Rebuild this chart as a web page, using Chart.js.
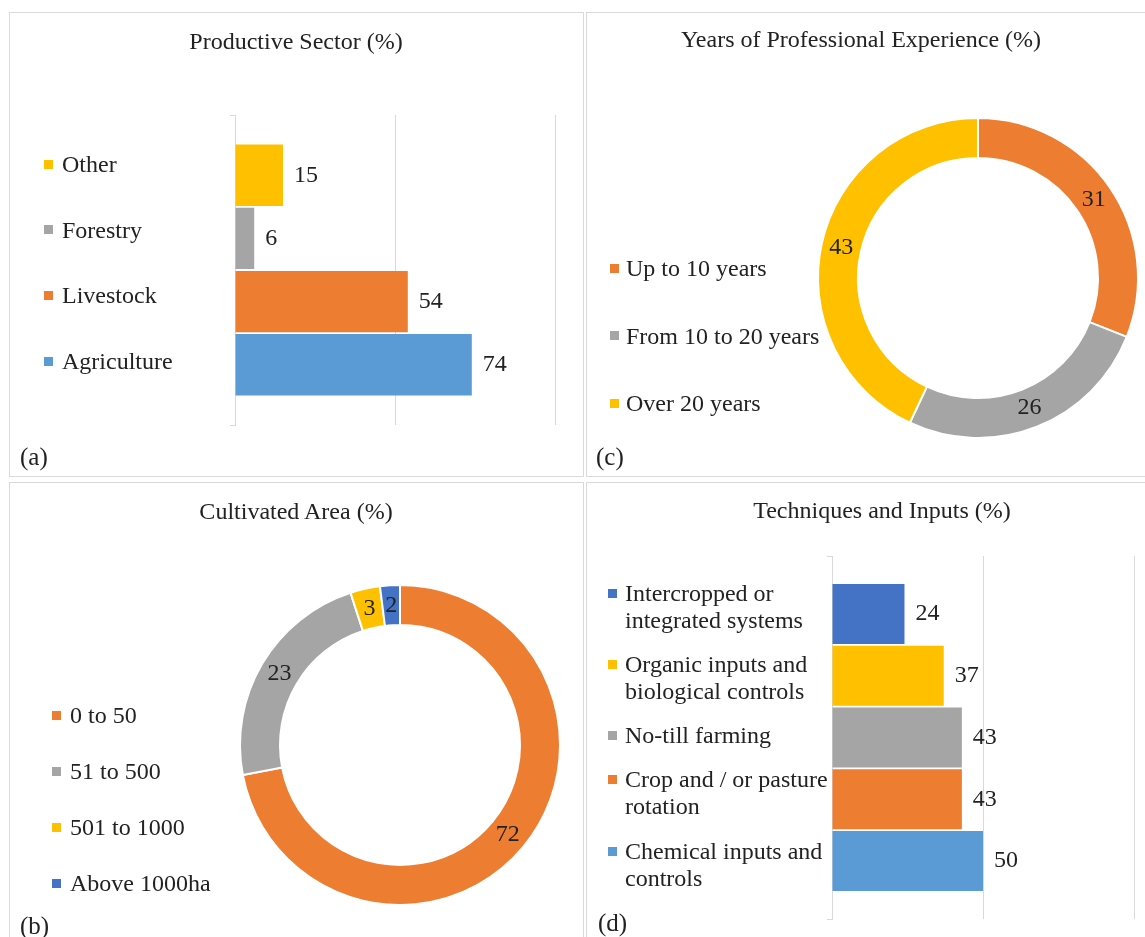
<!DOCTYPE html>
<html>
<head>
<meta charset="utf-8">
<script src="https://cdn.jsdelivr.net/npm/chart.js@4.4.1/dist/chart.umd.min.js"></script>
<style>
html,body{margin:0;padding:0;background:#fff;}
body{width:1145px;height:937px;overflow:hidden;position:relative;font-family:"Liberation Serif","Times New Roman",serif;color:#222;}
.panel{position:absolute;box-sizing:border-box;border:1px solid #d9d9d9;}
canvas{position:absolute;}
.title{position:absolute;font-size:24px;line-height:24px;white-space:nowrap;transform:translateX(-50%);}
.legend{position:absolute;display:flex;flex-direction:column;}
.item{display:flex;align-items:flex-start;font-size:24px;white-space:nowrap;}
.box{width:9px;height:9px;flex:none;}
.tag{position:absolute;font-size:25px;line-height:26px;white-space:nowrap;}
</style>
</head>
<body>
<div class="panel" style="left:9px;top:12px;width:575px;height:465px;"></div>
<div class="panel" style="left:586px;top:12px;width:620px;height:465px;"></div>
<div class="panel" style="left:9px;top:482px;width:575px;height:500px;"></div>
<div class="panel" style="left:586px;top:482px;width:620px;height:500px;"></div>

<canvas id="cA" width="572" height="462" style="left:10px;top:13px;"></canvas>
<canvas id="cC" width="558" height="462" style="left:587px;top:13px;"></canvas>
<canvas id="cB" width="572" height="454" style="left:10px;top:483px;"></canvas>
<canvas id="cD" width="558" height="454" style="left:587px;top:483px;"></canvas>

<script>
// ---------- data ----------
const sectorTitle = 'Productive Sector (%)';
const sectorLabels = ['Other', 'Forestry', 'Livestock', 'Agriculture'];
const sectorValues = [15, 6, 54, 74];
const sectorColors = ['#FFC000', '#A5A5A5', '#ED7D31', '#5B9BD5'];

const experienceTitle = 'Years of Professional Experience (%)';
const experienceLabels = ['Up to 10 years', 'From 10 to 20 years', 'Over 20 years'];
const experienceValues = [31, 26, 43];
const experienceColors = ['#ED7D31', '#A5A5A5', '#FFC000'];

const areaTitle = 'Cultivated Area (%)';
const areaLabels = ['0 to 50', '51 to 500', '501 to 1000', 'Above 1000ha'];
const areaValues = [72, 23, 3, 2];
const areaColors = ['#ED7D31', '#A5A5A5', '#FFC000', '#4472C4'];

const techniqueTitle = 'Techniques and Inputs (%)';
const techniqueLabels = [
  ['Intercropped or', 'integrated systems'],
  ['Organic inputs and', 'biological controls'],
  ['No-till farming'],
  ['Crop and / or pasture', 'rotation'],
  ['Chemical inputs and', 'controls']
];
const techniqueValues = [24, 37, 43, 43, 50];
const techniqueColors = ['#4472C4', '#FFC000', '#A5A5A5', '#ED7D31', '#5B9BD5'];

const percentAxisMin = 0;
const percentAxisMax = 100;
const percentAxisStep = 50;

const panelTags = ['(a)', '(c)', '(b)', '(d)'];

// ---------- helpers ----------
const FONT = '"Liberation Serif", "Times New Roman", serif';
const TEXT = '#222';
Chart.defaults.font.family = FONT;
Chart.defaults.font.size = 24;
Chart.defaults.color = TEXT;

function addText(cls, text, left, top) {
  const d = document.createElement('div');
  d.className = cls;
  d.textContent = text;
  d.style.left = left + 'px';
  d.style.top = top + 'px';
  document.body.appendChild(d);
  return d;
}

function buildLegend(labels, colors, o) {
  const el = document.createElement('div');
  el.className = 'legend';
  el.style.left = o.boxX + 'px';
  el.style.top = (o.firstCenter - o.lh / 2) + 'px';
  el.style.rowGap = o.gap + 'px';
  labels.forEach((lab, i) => {
    const lines = Array.isArray(lab) ? lab : [lab];
    const item = document.createElement('div');
    item.className = 'item';
    const box = document.createElement('span');
    box.className = 'box';
    box.style.background = colors[i];
    box.style.marginTop = ((o.lh - 9) / 2) + 'px';
    box.style.marginRight = (o.textX - o.boxX - 9) + 'px';
    const txt = document.createElement('div');
    txt.style.lineHeight = o.lh + 'px';
    lines.forEach(line => {
      const ln = document.createElement('div');
      ln.textContent = line;
      txt.appendChild(ln);
    });
    item.appendChild(box);
    item.appendChild(txt);
    el.appendChild(item);
  });
  document.body.appendChild(el);
}

const valueLabels = {
  id: 'valueLabels',
  afterDatasetsDraw(chart, args, opts) {
    const ctx = chart.ctx;
    ctx.save();
    ctx.font = '24px ' + FONT;
    ctx.fillStyle = TEXT;
    chart.data.datasets.forEach((ds, i) => {
      const meta = chart.getDatasetMeta(i);
      meta.data.forEach((el, j) => {
        const v = ds.data[j];
        if (meta.type === 'bar') {
          ctx.textAlign = 'left';
          ctx.textBaseline = 'middle';
          ctx.fillText(String(v), el.x + (opts.gap || 11), el.y);
        } else {
          const p = el.getCenterPoint();
          ctx.textAlign = 'center';
          ctx.textBaseline = 'middle';
          ctx.fillText(String(v), p.x, p.y);
        }
      });
    });
    ctx.restore();
  }
};

function barChart(id, title, labels, values, colors, padding, catPct, barPct) {
  return new Chart(document.getElementById(id), {
    type: 'bar',
    data: {
      labels: [title],
      datasets: labels.map((l, i) => ({
        label: Array.isArray(l) ? l.join(' ') : l,
        data: [values[i]],
        backgroundColor: colors[i],
        borderWidth: 0,
        categoryPercentage: catPct,
        barPercentage: barPct
      }))
    },
    options: {
      indexAxis: 'y',
      responsive: false,
      animation: false,
      devicePixelRatio: 1,
      layout: { padding: padding },
      plugins: {
        legend: { display: false },
        title: { display: false },
        tooltip: { enabled: false },
        valueLabels: { gap: 11 }
      },
      scales: {
        x: {
          type: 'linear',
          min: percentAxisMin, max: percentAxisMax,
          ticks: { display: false, stepSize: percentAxisStep },
          grid: { color: '#d9d9d9', drawTicks: false, lineWidth: 1 },
          border: { display: false },
          afterFit: s => { s.height = 0; }
        },
        y: {
          ticks: { display: false },
          grid: { drawOnChartArea: false, drawTicks: true, tickLength: 5, color: '#d9d9d9', offset: true },
          border: { display: true, color: '#d9d9d9' },
          afterFit: s => { s.width = 5; }
        }
      }
    },
    plugins: [valueLabels]
  });
}

function ringChart(id, labels, values, colors, padding) {
  return new Chart(document.getElementById(id), {
    type: 'doughnut',
    data: {
      labels: labels,
      datasets: [{
        data: values,
        backgroundColor: colors,
        borderColor: '#ffffff',
        borderWidth: 2,
        radius: 160,
        cutout: '75%'
      }]
    },
    options: {
      responsive: false,
      animation: false,
      devicePixelRatio: 1,
      layout: { padding: padding },
      plugins: {
        legend: { display: false },
        title: { display: false },
        tooltip: { enabled: false },
        valueLabels: {}
      }
    },
    plugins: [valueLabels]
  });
}

// ---------- titles ----------
addText('title', sectorTitle, 296, 41 - 12).style.left = '296px';
addText('title', experienceTitle, 861, 39 - 12);
addText('title', areaTitle, 296, 511 - 12);
addText('title', techniqueTitle, 882, 510 - 12);

// ---------- legends ----------
buildLegend(sectorLabels, sectorColors, { boxX: 44, textX: 62, firstCenter: 164, lh: 24, gap: 41.7 });
buildLegend(experienceLabels, experienceColors, { boxX: 610, textX: 626, firstCenter: 268, lh: 24, gap: 43.5 });
buildLegend(areaLabels, areaColors, { boxX: 52, textX: 70, firstCenter: 715, lh: 24, gap: 32 });
buildLegend(techniqueLabels, techniqueColors, { boxX: 608, textX: 625, firstCenter: 593, lh: 27, gap: 17.25 });

// ---------- panel tags ----------
addText('tag', panelTags[0], 20, 457 - 13);
addText('tag', panelTags[1], 596, 457 - 13);
addText('tag', panelTags[2], 20, 926 - 13);
addText('tag', panelTags[3], 598, 923 - 13);

// ---------- charts ----------
barChart('cA', sectorTitle, sectorLabels, sectorValues, sectorColors,
  { left: 220, right: 27, top: 102, bottom: 50 }, 0.815, 0.97);
ringChart('cC', experienceLabels, experienceValues, experienceColors,
  { left: 231, right: 7, top: 105, bottom: 37 });
ringChart('cB', areaLabels, areaValues, areaColors,
  { left: 230, right: 22, top: 102, bottom: 32 });
barChart('cD', techniqueTitle, techniqueLabels, techniqueValues, techniqueColors,
  { left: 240, right: 11, top: 73, bottom: 18 }, 0.851, 0.97);
</script>
</body>
</html>
